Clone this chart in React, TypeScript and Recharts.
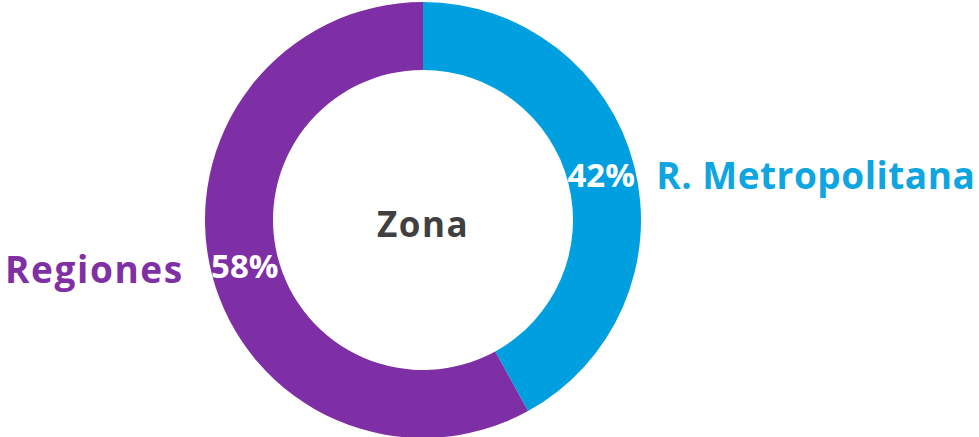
import { Cell, Pie, PieChart } from "recharts";

const zones = ["R. Metropolitana", "Regiones"];
const shares = [42, 58];
const sliceColors = ["#009fdf", "#7f2fa5"];
const textColors = ["#0ea5e0", "#8030a5"];
const centerTitle = "Zona";

const data = zones.map((name, i) => ({ name, value: shares[i] }));

const RADIAN = Math.PI / 180;
const font = "'Open Sans', sans-serif";

function renderLabel(props: any) {
  const { cx, cy, midAngle, innerRadius, outerRadius, index, value } = props;
  const r = (innerRadius + outerRadius) / 2;
  const x = cx + r * Math.cos(-midAngle * RADIAN);
  const y = cy + r * Math.sin(-midAngle * RADIAN);
  const right = x > cx;
  return (
    <g>
      {index === 0 && (
        <text x={cx} y={cy + 3} fill="#404040" fontSize={35} fontWeight={700} fontFamily={font}
          letterSpacing={1.5} textAnchor="middle" dominantBaseline="central">
          {centerTitle}
        </text>
      )}
      <text x={x} y={y} fill="#fff" fontSize={33} fontWeight={700} fontFamily={font}
        textAnchor="middle" dominantBaseline="central">
        {value}%
      </text>
      <text x={right ? x + 55 : x - 61} y={right ? y : y + 3} fill={textColors[index]} fontSize={37}
        fontWeight={700} fontFamily={font} letterSpacing={right ? 0.5 : 1.6}
        textAnchor={right ? "start" : "end"} dominantBaseline="central">
        {zones[index]}
      </text>
    </g>
  );
}

export default function App() {
  return (
    <div style={{ position: "absolute", left: 0, top: 0, width: 979, height: 437, background: "#fff" }}>
      <PieChart width={979} height={437} margin={{ top: 0, right: 0, bottom: 0, left: 0 }}>
        <Pie
          data={data}
          dataKey="value"
          nameKey="name"
          cx={423}
          cy={220}
          innerRadius={150}
          outerRadius={218}
          startAngle={90}
          endAngle={-270}
          stroke="none"
          label={renderLabel}
          labelLine={false}
          isAnimationActive={false}
        >
          {data.map((entry, i) => (
            <Cell key={entry.name} fill={sliceColors[i]} />
          ))}
        </Pie>
      </PieChart>
    </div>
  );
}
